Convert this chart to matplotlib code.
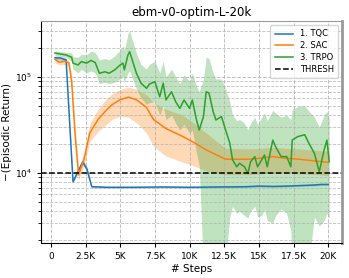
import numpy as np
import matplotlib
matplotlib.use("Agg")
import matplotlib.pyplot as plt
from matplotlib.ticker import FuncFormatter, LogLocator, NullFormatter

TITLE = "ebm-v0-optim-L-20k"
THRESH = 1e4

# TQC (steps in K, -return)
tqc_x = [0.3, 0.7, 1.1, 1.6, 1.9, 2.3, 2.6, 2.95, 4, 6, 8, 10, 12, 14, 15, 16, 17, 18, 19, 19.5, 20]
tqc_y = [1.58e5, 1.57e5, 1.5e5, 8.1e3, 1.0e4, 1.3e4, 1.1e4, 7.2e3, 7.1e3, 7.1e3, 7.15e3, 7.1e3, 7.15e3,
         7.2e3, 7.3e3, 7.25e3, 7.3e3, 7.4e3, 7.5e3, 7.6e3, 7.6e3]
tqc_lo = [1.5e5, 1.5e5, 1.42e5, 7.8e3, 9.5e3, 1.22e4, 1.02e4, 7.0e3, 6.95e3, 6.95e3, 7.0e3, 6.95e3, 7.0e3,
          7.05e3, 7.15e3, 7.1e3, 7.15e3, 7.25e3, 7.35e3, 7.45e3, 7.45e3]
tqc_hi = [1.66e5, 1.64e5, 1.58e5, 8.4e3, 1.05e4, 1.38e4, 1.18e4, 7.4e3, 7.25e3, 7.25e3, 7.3e3, 7.25e3, 7.3e3,
          7.35e3, 7.45e3, 7.4e3, 7.45e3, 7.55e3, 7.65e3, 7.75e3, 7.75e3]

# SAC
sac_x = [0.3, 0.6, 1.0, 1.3, 1.5, 1.75, 2.0, 2.4, 2.8, 3.4, 4.0, 4.4, 5.0, 5.6, 6.2, 6.9, 7.4, 8.3, 9.5, 10.2,
         11.2, 12.2, 12.6, 14.3, 15.0, 16.0, 17.0, 17.9, 19.1, 20.0]
sac_y = [1.52e5, 1.42e5, 1.45e5, 1.4e5, 9e4, 2.5e4, 9.5e3, 1.4e4, 2.6e4, 3.6e4, 4.5e4, 5.1e4, 5.8e4, 6.15e4,
         5.75e4, 4.8e4, 3.6e4, 2.9e4, 2.4e4, 2.12e4, 1.74e4, 1.48e4, 1.39e4, 1.39e4, 1.42e4, 1.48e4, 1.42e4,
         1.39e4, 1.33e4, 1.29e4]
sac_lo = [1.4e5, 1.33e5, 1.35e5, 1.28e5, 7.5e4, 2.0e4, 8.5e3, 1.2e4, 2.1e4, 2.7e4, 3.2e4, 3.6e4, 3.9e4, 3.8e4,
          3.3e4, 2.6e4, 1.9e4, 1.5e4, 1.3e4, 1.2e4, 1.05e4, 9.8e3, 9.6e3, 9.6e3, 9.8e3, 1.0e4, 1.0e4, 9.8e3,
          9.6e3, 9.4e3]
sac_hi = [1.62e5, 1.55e5, 1.55e5, 1.5e5, 1.05e5, 3.0e4, 1.1e4, 1.65e4, 3.2e4, 4.6e4, 5.9e4, 6.6e4, 7.4e4, 7.8e4,
          7.4e4, 6.5e4, 5.4e4, 4.6e4, 4.0e4, 3.4e4, 2.6e4, 2.0e4, 1.8e4, 1.78e4, 1.8e4, 1.85e4, 1.8e4, 1.78e4,
          1.72e4, 1.68e4]

# TRPO
trpo_x = [0.3, 1.1, 1.5, 1.6, 1.96, 2.2, 2.57, 2.9, 3.2, 3.5, 3.9, 4.2, 4.6, 5.0, 5.2, 5.3, 5.56, 5.68, 6.17,
          6.5, 6.9, 7.1, 7.5, 7.85, 8.1, 8.3, 8.7, 9.0, 9.3, 9.6, 10.0, 10.2, 10.5, 10.7, 11.0, 11.2, 11.4,
          11.7, 11.9, 12.3, 12.6, 12.9, 13.1, 13.4, 13.6, 13.96, 14.2, 14.4, 14.7, 14.9, 15.2, 15.4, 15.6, 16.0,
          16.2, 16.6, 17.0, 17.3, 17.4, 17.8, 18.3, 18.6, 19.0, 19.35, 19.7, 19.9, 20.07]
trpo_y = [1.77e5, 1.69e5, 1.6e5, 1.39e5, 1.33e5, 1.44e5, 1.39e5, 1.48e5, 1.41e5, 1.09e5, 1.13e5, 1.09e5,
          1.18e5, 1.33e5, 1.39e5, 1.18e5, 1.69e5, 1.83e5, 1.09e5, 8.6e4, 7.6e4, 8.4e4, 8.9e4, 6.2e4, 8.6e4,
          5.75e4, 7.0e4, 5.5e4, 4.7e4, 5.75e4, 4.7e4, 5.75e4, 3.56e4, 2.8e4, 3.86e4, 7.0e4, 6.8e4, 4.35e4,
          3.56e4, 3.86e4, 2.8e4, 2.04e4, 1.37e4, 1.16e4, 1.26e4, 1.16e4, 9.9e3, 1.31e4, 1.48e4, 1.16e4,
          1.37e4, 1.54e4, 1.16e4, 2.2e4, 1.88e4, 1.48e4, 1.48e4, 1.16e4, 2.2e4, 2.39e4, 2.5e4, 2.04e4, 1.6e4,
          1.03e4, 1.74e4, 2.2e4, 1.31e4]
trpo_lo = [1.68e5, 1.6e5, 1.45e5, 1.2e5, 1.1e5, 1.2e5, 1.1e5, 1.15e5, 1.1e5, 8.5e4, 8.8e4, 8.5e4, 8.8e4,
           9.5e4, 1.0e5, 8.8e4, 1.1e5, 1.15e5, 7.5e4, 6.0e4, 5.2e4, 5.4e4, 5.5e4, 4.0e4, 5.0e4, 3.6e4, 4.0e4,
           3.3e4, 2.8e4, 3.2e4, 2.6e4, 2.8e4, 1.6e4, 1.2e4, 1.0e3, 1.0e3, 1.0e3, 1.0e3, 1.0e3, 1.0e3, 1.2e3,
           3.5e3, 4.5e3, 3.8e3, 4.0e3, 3.6e3, 3.4e3, 4.0e3, 4.5e3, 3.5e3, 3.6e3, 4.2e3, 3.2e3, 3.0e3, 3.6e3,
           4.2e3, 3.8e3, 2.5e3, 1.0e3, 1.0e3, 1.0e3, 1.2e3, 3.5e3, 2.8e3, 3.2e3, 3.8e3, 3.4e3]
trpo_hi = [1.85e5, 1.8e5, 1.78e5, 1.62e5, 1.6e5, 1.72e5, 1.7e5, 1.85e5, 1.8e5, 1.5e5, 1.55e5, 1.5e5, 1.65e5,
           1.9e5, 2.1e5, 1.9e5, 2.8e5, 3.0e5, 1.75e5, 1.35e5, 1.2e5, 1.35e5, 1.45e5, 1.1e5, 1.45e5, 1.0e5,
           1.2e5, 1.0e5, 8.5e4, 1.05e5, 9.0e4, 1.1e5, 8.0e4, 7.0e4, 9.5e4, 1.6e5, 1.55e5, 1.1e5, 9.5e4, 9.5e4,
           7.5e4, 5.5e4, 4.0e4, 3.5e4, 3.6e4, 3.3e4, 2.8e4, 3.3e4, 3.8e4, 3.2e4, 3.8e4, 4.2e4, 3.5e4, 4.5e4,
           4.2e4, 3.8e4, 4.0e4, 3.6e4, 4.6e4, 4.9e4, 5.0e4, 4.4e4, 3.8e4, 3.0e4, 4.0e4, 4.4e4, 3.6e4]

SERIES = [("1. TQC", tqc_x, tqc_y, tqc_lo, tqc_hi, "#1f77b4"),
          ("2. SAC", sac_x, sac_y, sac_lo, sac_hi, "#ff7f0e"),
          ("3. TRPO", trpo_x, trpo_y, trpo_lo, trpo_hi, "#2ca02c")]


def main():
    fig = plt.figure(figsize=(3.49, 2.78), dpi=100)
    ax = fig.add_axes([0.117, 0.126, 0.863, 0.798])

    for label, x, y, lo, hi, color in SERIES:
        xs = np.array(x) * 1000
        ax.fill_between(xs, lo, hi, color=color, alpha=0.3, lw=0)
        ax.plot(xs, y, color=color, lw=1.1, label=label)
    ax.axhline(THRESH, color="black", ls="--", lw=1.1, label="THRESH")

    ax.set_yscale("log")
    ax.set_ylim(1.87e3, 3.8e5)
    ax.set_xlim(-720, 20990)
    ax.set_xticks(np.arange(0, 20001, 2500))
    ax.xaxis.set_major_formatter(FuncFormatter(
        lambda v, p: "0" if v == 0 else f"{v / 1000:g}K"))
    ax.yaxis.set_minor_locator(LogLocator(base=10, subs=np.arange(2, 10)))
    ax.yaxis.set_minor_formatter(NullFormatter())
    ax.tick_params(labelsize=6.5, length=3)
    ax.tick_params(which="minor", length=2)

    ax.grid(True, which="major", ls="--", color="#b0b0b0", lw=0.7, alpha=0.8)
    ax.grid(True, which="minor", axis="y", ls="--", color="#b0b0b0", lw=0.6, alpha=0.8)

    for side in ("top", "right"):
        ax.spines[side].set_color("#999999")
    ax.spines["right"].set_linewidth(2)

    ax.set_title(TITLE, fontsize=8.5, pad=4)
    ax.set_xlabel("# Steps", fontsize=7.5, labelpad=2)
    ax.set_ylabel("\u2212(Episodic Return)", fontsize=7.5, labelpad=2)
    ax.legend(loc="upper right", fontsize=6, handlelength=2.2, borderpad=0.5, labelspacing=0.35)

    fig.savefig("out.png", dpi=100)


if __name__ == "__main__":
    main()
